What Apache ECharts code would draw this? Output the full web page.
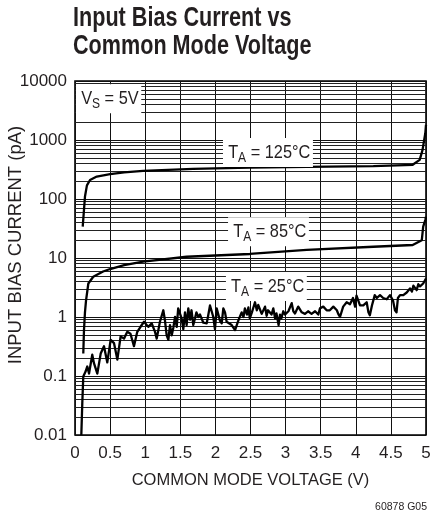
<!DOCTYPE html>
<html><head><meta charset="utf-8">
<script src="https://cdn.jsdelivr.net/npm/echarts@6/dist/echarts.min.js"></script>
<style>html,body{margin:0;padding:0;background:#fff}#c{width:430px;height:516px}</style>
</head><body><div id="c"></div>
<script>
// ---- data ----
const titleLines = ['Input Bias Current vs', 'Common Mode Voltage'];
const xName = 'COMMON MODE VOLTAGE (V)';
const yName = 'INPUT BIAS CURRENT (pA)';
const noteText = '60878 G05';
const yTickLabels = ['0.01', '0.1', '1', '10', '100', '1000', '10000'];

const curve125 = [[0.11,34],[0.142,110],[0.17,170],[0.214,210],[0.31,240],[0.5,263],[0.7,283],[0.97,300],[1.68,324],[2.49,340],[3.3,350],[4.25,360],[4.81,380],[4.91,460],[4.95,675],[4.99,1300],[5.0,1800]];

const curve85 = [[0.118,0.24],[0.128,0.6],[0.142,1.2],[0.157,1.9],[0.19,3.7],[0.26,4.8],[0.4,5.9],[0.5,6.5],[0.7,7.6],[0.97,8.7],[1.59,10.5],[2.49,11.7],[3.3,13.7],[4.25,15.5],[4.81,16.6],[4.94,20],[4.96,34],[4.99,44],[5.0,50]];

const curve25 = [[0.09,0.01],[0.104,0.035],[0.118,0.098],[0.152,0.12],[0.175,0.145],[0.2,0.11],[0.246,0.23],[0.27,0.165],[0.318,0.11],[0.366,0.24],[0.413,0.32],[0.46,0.17],[0.508,0.41],[0.556,0.36],[0.603,0.19],[0.65,0.47],[0.698,0.43],[0.745,0.56],[0.79,0.52],[0.84,0.32],[0.887,0.56],[0.936,0.69],[0.983,0.83],[1.044,0.68],[1.093,0.78],[1.14,0.56],[1.164,0.43],[1.21,0.83],[1.258,1.3],[1.28,0.9],[1.306,0.49],[1.33,0.41],[1.353,0.73],[1.378,0.49],[1.4,0.65],[1.425,1.0],[1.449,0.68],[1.47,1.4],[1.496,1.5],[1.52,0.94],[1.543,0.62],[1.567,1.2],[1.59,0.73],[1.614,1.4],[1.638,0.9],[1.66,1.3],[1.685,0.73],[1.709,0.94],[1.73,1.2],[1.757,1.0],[1.78,1.1],[1.804,0.94],[1.828,0.8],[1.852,0.86],[1.876,0.78],[1.9,1.1],[1.923,1.57],[1.947,1.6],[1.97,1.0],[1.994,0.62],[2.018,1.4],[2.04,1.45],[2.066,0.86],[2.09,0.78],[2.113,1.4],[2.137,1.2],[2.16,0.83],[2.184,0.89],[2.232,0.73],[2.28,0.6],[2.3,0.56],[2.33,0.89],[2.374,1.2],[2.4,1.0],[2.42,1.4],[2.45,1.1],[2.47,1.45],[2.49,0.95],[2.52,1.2],[2.564,1.78],[2.59,1.3],[2.61,1.6],[2.66,1.13],[2.707,1.5],[2.73,1.05],[2.75,1.3],[2.8,1.1],[2.825,1.4],[2.85,0.95],[2.87,1.15],[2.9,0.73],[2.92,1.1],[2.94,0.95],[2.967,1.25],[2.99,1.1],[3.04,1.25],[3.087,1.72],[3.11,1.25],[3.134,1.15],[3.18,1.5],[3.23,1.2],[3.276,1.13],[3.32,1.25],[3.37,1.13],[3.42,1.25],[3.466,1.1],[3.49,1.4],[3.537,1.5],[3.585,1.3],[3.63,1.3],[3.68,1.5],[3.73,1.3],[3.75,1.13],[3.775,1.0],[3.82,1.5],[3.87,1.78],[3.917,1.65],[3.96,2.1],[3.99,1.5],[4.01,2.3],[4.06,1.57],[4.107,1.57],[4.155,1.78],[4.18,1.2],[4.2,1.07],[4.23,1.57],[4.27,2.35],[4.3,2.1],[4.32,2.2],[4.345,2.35],[4.39,2.1],[4.44,2.0],[4.487,2.35],[4.53,1.9],[4.558,1.3],[4.58,1.2],[4.6,2.1],[4.63,2.35],[4.677,2.35],[4.725,2.6],[4.772,3.05],[4.8,2.7],[4.82,3.4],[4.867,2.85],[4.89,3.6],[4.915,3.3],[4.94,3.2],[4.96,3.7],[4.986,3.9],[5.0,4.5]];

// annotation labels: [main, subscript, rest], anchored at data coords (left edge, vertical centre)
const annotations = [
  { at: [0.014, 5000], parts: ['V', 'S', ' = 5V'] },
  { at: [2.108, 614], parts: ['T', 'A', ' = 125°C'] },
  { at: [2.18, 27.9], parts: ['T', 'A', ' = 85°C'] },
  { at: [2.15, 3.29], parts: ['T', 'A', ' = 25°C'] }
];

// ---- chart ----
const FONT = '"Liberation Sans", Arial, Helvetica, sans-serif';
const INK = '#231f20';

const minorLines = [];
for (let d = -2; d <= 3; d++) {
  for (let k = 2; k <= 9; k++) minorLines.push({ yAxis: Number((k * Math.pow(10, d)).toPrecision(3)) });
}

const chart = echarts.init(document.getElementById('c'), null, { renderer: 'canvas' });
const curveStyle = { color: '#000', width: 2.3, join: 'round' };
chart.setOption({
  animation: false,
  backgroundColor: '#fff',
  title: [
    { text: noteText, right: 3, bottom: 3, padding: 0,
      textStyle: { fontFamily: FONT, fontWeight: 'normal', fontSize: 10.5, color: INK } }
  ],
  grid: { left: 75, right: 4, top: 81, bottom: 81, show: true, borderColor: '#000', borderWidth: 1.6,
    containLabel: false, outerBoundsMode: 'none' },
  xAxis: {
    type: 'value', min: 0, max: 5, interval: 0.5,
    name: xName, nameLocation: 'middle', nameGap: 37, nameMoveOverlap: false,
    nameTextStyle: { fontFamily: FONT, fontSize: 16.5, color: INK },
    axisLine: { show: false }, axisTick: { show: false },
    axisLabel: { fontFamily: FONT, fontSize: 17, color: INK, margin: 10 },
    splitLine: { show: true, lineStyle: { color: '#111', width: 1 } }
  },
  yAxis: {
    type: 'log', logBase: 10, min: 0.01, max: 10000,
    name: yName, nameLocation: 'middle', nameGap: 50, nameMoveOverlap: false,
    nameTextStyle: { fontFamily: FONT, fontSize: 18.5, color: INK, padding: [0, 0, 0, 26] },
    axisLine: { show: false }, axisTick: { show: false },
    axisLabel: { fontFamily: FONT, fontSize: 17, color: INK, margin: 8,
      formatter: v => yTickLabels[Math.round(Math.log10(v)) + 2] },
    splitLine: { show: true, lineStyle: { color: '#111', width: 1 } }
  },
  series: [
    { type: 'line', name: 'grid', data: [], z: 1, silent: true,
      markLine: { silent: true, symbol: 'none', label: { show: false },
        lineStyle: { color: '#222', width: 1, type: 'solid' }, emphasis: { disabled: true },
        data: minorLines } },
    { type: 'line', name: 'TA = 125°C', data: curve125, showSymbol: false, z: 5, lineStyle: curveStyle },
    { type: 'line', name: 'TA = 85°C', data: curve85, showSymbol: false, z: 5, lineStyle: curveStyle },
    { type: 'line', name: 'TA = 25°C', data: curve25, showSymbol: false, z: 5, lineStyle: curveStyle }
  ]
});

const graphics = annotations.map(a => {
  const p = chart.convertToPixel({ xAxisIndex: 0, yAxisIndex: 0 }, a.at);
  return {
    type: 'text', x: p[0], y: p[1], z: 100, scaleX: 0.86,
    style: {
      text: '{m|' + a.parts[0] + '}{s|' + a.parts[1] + '}{m|' + a.parts[2] + '}',
      align: 'left', verticalAlign: 'middle',
      backgroundColor: '#fff', padding: [2, 3, 2, 6],
      rich: {
        m: { fontFamily: FONT, fontSize: 19, lineHeight: 25, fill: INK, verticalAlign: 'middle' },
        s: { fontFamily: FONT, fontSize: 14, lineHeight: 16, fill: INK, verticalAlign: 'bottom' }
      }
    }
  };
});
// condensed bold title (two lines)
titleLines.forEach((t, i) => {
  graphics.push({
    type: 'text', x: 73, y: 5 + i * 28, scaleX: 0.8, z: 100,
    style: { text: t, align: 'left', verticalAlign: 'top', fill: INK,
      font: 'bold 27px ' + FONT }
  });
});
chart.setOption({ graphic: graphics });
</script>
</body></html>
